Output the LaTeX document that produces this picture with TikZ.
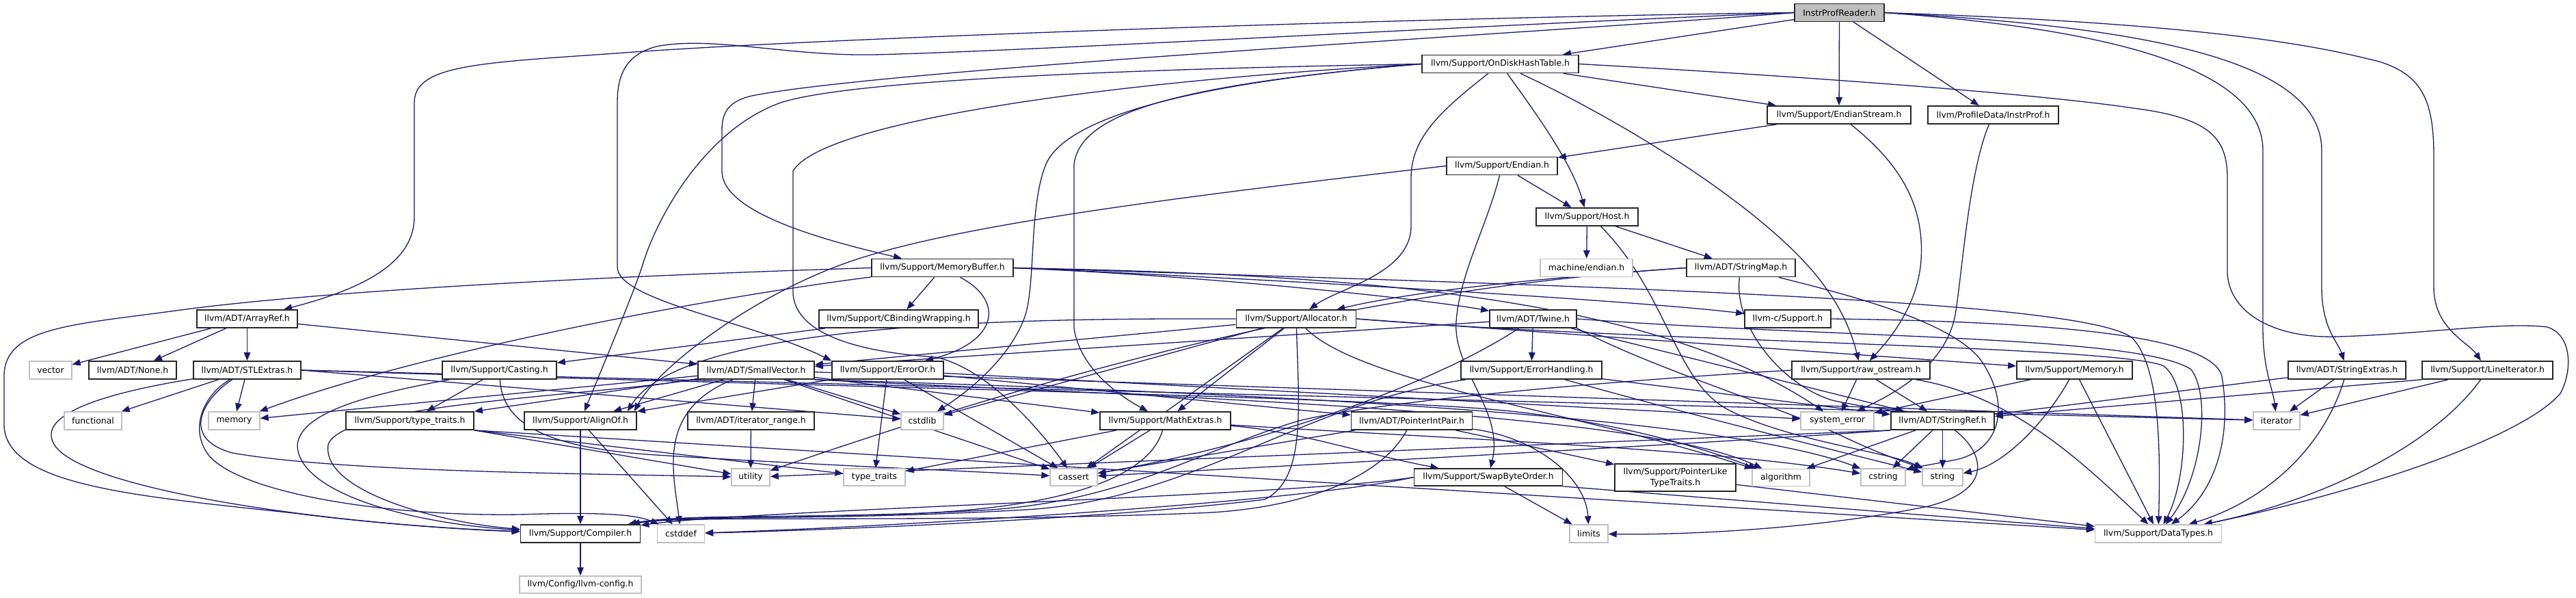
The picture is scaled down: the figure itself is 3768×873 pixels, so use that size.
\documentclass[tikz,border=0pt]{standalone}
\usepackage{fontspec}
\setmainfont{DejaVu Sans}
\usetikzlibrary{arrows.meta}
\definecolor{edgec}{HTML}{191970}
\definecolor{gborder}{HTML}{BFBFBF}
\definecolor{gfill}{HTML}{BFBFBF}
\pgfdeclarelayer{bg}
\pgfsetlayers{bg,main}
\begin{document}
\begin{tikzpicture}[x=1pt,y=-1pt,
  nd/.style={draw=black!85, line width=1.7pt, fill=white, minimum height=26, inner sep=0pt, font=\fontsize{12.4}{15.5}\selectfont, text=black},
  gn/.style={nd, draw=gborder, line width=1.4pt},
  e/.style={draw=edgec, line width=1.3pt, -{Triangle[length=12pt,width=9.5pt]}}
]
\begin{pgfonlayer}{bg}
\fill[white] (0,0) rectangle (3768,873);
\end{pgfonlayer}
\path[use as bounding box] (0,0) rectangle (3768,873);

% ---------- nodes ----------
\node[nd,fill=gfill,minimum width=131] (IPR) at (2690.5,18.5) {InstrProfReader.h};
\node[nd,minimum width=229] (ODHT) at (2194.5,93.5) {llvm/Support/OnDiskHashTable.h};
\node[nd,minimum width=210] (ES) at (2690,168) {llvm/Support/EndianStream.h};
\node[nd,minimum width=191] (IP) at (2915.5,168) {llvm/ProfileData/InstrProf.h};
\node[nd,minimum width=162] (EN) at (2197,242.5) {llvm/Support/Endian.h};
\node[nd,minimum width=149] (HO) at (2321.5,317) {llvm/Support/Host.h};
\node[nd,minimum width=207] (MB) at (1378.5,391.5) {llvm/Support/MemoryBuffer.h};
\node[gn,minimum width=135] (ME) at (2320.5,391.5) {machine/endian.h};
\node[nd,minimum width=159] (SM) at (2546.5,391.5) {llvm/ADT/StringMap.h};

\node[nd,minimum width=147] (AR) at (361.5,466) {llvm/ADT/ArrayRef.h};
\node[nd,minimum width=233] (CB) at (1314.5,466) {llvm/Support/CBindingWrapping.h};
\node[nd,minimum width=175] (AL) at (1896,466) {llvm/Support/Allocator.h};
\node[nd,minimum width=127] (TW) at (2242.5,466) {llvm/ADT/Twine.h};
\node[nd,minimum width=126] (LCS) at (2615,466) {llvm-c/Support.h};

\node[gn,minimum width=62] (VE) at (74,541) {vector};
\node[nd,minimum width=128] (NO) at (194,541) {llvm/ADT/None.h};
\node[nd,minimum width=157] (SE) at (361.5,541) {llvm/ADT/STLExtras.h};
\node[nd,minimum width=167] (CA) at (730.5,541) {llvm/Support/Casting.h};
\node[nd,minimum width=170] (SV) at (1106,541) {llvm/ADT/SmallVector.h};
\node[nd,minimum width=163] (EO) at (1298.5,541) {llvm/Support/ErrorOr.h};
\node[nd,minimum width=206] (EH) at (2240,541) {llvm/Support/ErrorHandling.h};
\node[nd,minimum width=202] (RO) at (2722,541) {llvm/Support/raw\_ostream.h};
\node[nd,minimum width=169] (MEM) at (3034.5,541) {llvm/Support/Memory.h};
\node[nd,minimum width=172] (SX) at (3433,541) {llvm/ADT/StringExtras.h};
\node[nd,minimum width=191] (LI) at (3638.5,541) {llvm/Support/LineIterator.h};

\node[gn,minimum width=84] (FU) at (136,615) {functional};
\node[gn,minimum width=75] (MY) at (342.5,615) {memory};
\node[nd,minimum width=187] (TT) at (599.5,615) {llvm/Support/type\_traits.h};
\node[nd,minimum width=164] (AO) at (849,615) {llvm/Support/AlignOf.h};
\node[nd,minimum width=185] (IR) at (1098.5,615) {llvm/ADT/iterator\_range.h};
\node[gn,minimum width=62] (CL) at (1349,615) {cstdlib};
\node[nd,minimum width=191] (MX) at (1704.5,615) {llvm/Support/MathExtras.h};
\node[nd,minimum width=177] (PIP) at (2065,615) {llvm/ADT/PointerIntPair.h};
\node[gn,minimum width=107] (SYE) at (2687.5,615) {system\_error};
\node[nd,minimum width=151] (SR) at (2841.5,615) {llvm/ADT/StringRef.h};
\node[gn,minimum width=68] (IT) at (3330,615) {iterator};

\node[gn,minimum width=56,minimum height=25] (UT) at (1098,697.5) {utility};
\node[gn,minimum width=90,minimum height=25] (TY) at (1279,697.5) {type\_traits};
\node[gn,minimum width=69,minimum height=25] (CAS) at (1570.5,697.5) {cassert};
\node[nd,minimum width=217,minimum height=25] (SBO) at (2177,697.5) {llvm/Support/SwapByteOrder.h};
\node[nd,minimum width=177,minimum height=40,align=center] (PLT) at (2450.5,698) {llvm/Support/PointerLike\\TypeTraits.h};
\node[gn,minimum width=84,minimum height=25] (ALG) at (2605,698) {algorithm};
\node[gn,minimum width=65,minimum height=25] (CS) at (2754.5,697.5) {cstring};
\node[gn,minimum width=59,minimum height=25] (ST) at (2841.5,697.5) {string};

\node[nd,minimum width=175] (CO) at (849,780) {llvm/Support/Compiler.h};
\node[gn,minimum width=69] (CD) at (996,780) {cstddef};
\node[gn,minimum width=56] (LIM) at (2324,780) {limits};
\node[gn,minimum width=185] (DT) at (3157,780) {llvm/Support/DataTypes.h};
\node[gn,minimum width=178,minimum height=25] (LC) at (849,854.5) {llvm/Config/llvm-config.h};

% ---------- edges ----------
\begin{pgfonlayer}{bg}
% InstrProfReader.h
\draw[e] (IPR) -- (ODHT);
\draw[e] (IPR) -- (ES);
\draw[e] (IPR) -- (IP);
\draw[e] (IPR.west) .. controls (2100,25) and (1200,55) .. (900,78) .. controls (700,92) and (606,95) .. (606,150) -- (606,317) .. controls (606,380) and (540,420) .. (AR);
\draw[e] (IPR.west) .. controls (2200,35) and (1500,75) .. (1277,80) .. controls (1150,82) and (1040,52) .. (960,68) .. controls (915,80) and (903,110) .. (903,150) -- (903,390) .. controls (903,440) and (1100,470) .. (EO.north west);
\draw[e] (IPR.west) .. controls (2300,45) and (1300,100) .. (1100,140) .. controls (1065,148) and (1056,165) .. (1056,190) -- (1056,250) .. controls (1056,310) and (1200,350) .. (MB);
\draw[e] (IPR.east) .. controls (3050,40) and (3310,90) .. (3310,220) -- (3310,480) .. controls (3310,540) and (3325,570) .. (IT);
\draw[e] (IPR.east) .. controls (3150,40) and (3396,90) .. (3396,220) -- (3396,420) .. controls (3396,480) and (3420,500) .. (SX);
\draw[e] (IPR.east) .. controls (3250,35) and (3400,70) .. (3480,90) .. controls (3545,110) and (3560,150) .. (3560,230) -- (3560,420) .. controls (3560,480) and (3610,500) .. (LI);
% OnDiskHashTable.h
\draw[e] (ODHT) -- (ES);
\draw[e] (ODHT) .. controls (2250,170) and (2300,240) .. (HO);
\draw[e] (ODHT) .. controls (2110,160) and (2064,200) .. (2064,260) -- (2064,330) .. controls (2064,400) and (1960,420) .. (AL);
\draw[e] (ODHT) .. controls (2400,190) and (2600,320) .. (2670,420) .. controls (2700,460) and (2712,500) .. (RO);
\draw[e] (ODHT.east) .. controls (2700,115) and (3000,140) .. (3120,158) .. controls (3230,172) and (3258,200) .. (3258,260) -- (3258,400) .. controls (3262,460) and (3330,495) .. (3420,492) .. controls (3550,488) and (3660,470) .. (3726,478) .. controls (3764,490) and (3762,545) .. (3745,575) .. controls (3690,640) and (3450,720) .. (DT);
\draw[e] (ODHT.west) .. controls (1700,100) and (1250,115) .. (1142,150) .. controls (1030,190) and (960,320) .. (940,387) .. controls (930,420) and (880,540) .. (AO);
\draw[e] (ODHT.west) .. controls (1600,120) and (1200,180) .. (1160,250) -- (1160,430) .. controls (1165,490) and (1260,515) .. (1369,522) .. controls (1450,540) and (1530,640) .. (CAS);
\draw[e] (ODHT.west) .. controls (1750,120) and (1560,170) .. (1530,240) .. controls (1505,300) and (1515,410) .. (1500,460) .. controls (1480,520) and (1420,570) .. (CL);
\draw[e] (ODHT.west) .. controls (1700,125) and (1580,170) .. (1571,240) -- (1571,480) .. controls (1580,540) and (1640,580) .. (MX);
% EndianStream.h
\draw[e] (ES) -- (EN);
\draw[e] (ES) .. controls (2780,240) and (2815,300) .. (2810,380) .. controls (2805,450) and (2760,500) .. (RO);
% Endian.h
\draw[e] (EN) -- (HO);
\draw[e] (EN) .. controls (2175,330) and (2135,400) .. (2130,470) .. controls (2125,540) and (2200,600) .. (SBO);
\draw[e] (EN.west) .. controls (1700,290) and (1400,330) .. (1250,380) .. controls (1100,430) and (960,540) .. ([xshift=-4pt]AO.north east);
% Host.h
\draw[e] (HO) -- (ME);
\draw[e] (HO) -- (SM);
\draw[e] ([xshift=20pt]HO.south) .. controls (2440,430) and (2450,560) .. (2530,600) .. controls (2620,645) and (2760,660) .. (ST);
% StringMap.h
\draw[e] (SM) .. controls (2535,470) and (2600,560) .. (2680,585) .. controls (2740,598) and (2780,600) .. (SR);
\draw[e] (SM.west) .. controls (2200,410) and (2050,430) .. (AL);
\draw[e] (SM) .. controls (2700,430) and (2860,470) .. (2900,530) .. controls (2945,600) and (2920,660) .. (2860,672) .. controls (2820,680) and (2800,683) .. (CS);
\draw[e] (SM.west) .. controls (1950,425) and (1500,560) .. (UT);
% InstrProf.h
\draw[e] (IP) .. controls (2880,250) and (2870,400) .. (2860,460) .. controls (2845,540) and (2760,580) .. (SYE);
% MemoryBuffer.h
\draw[e] (MB) -- (CB);
\draw[e] (MB) .. controls (1470,440) and (1460,500) .. (EO);
\draw[e] (MB) .. controls (1000,440) and (600,520) .. (MY);
\draw[e] (MB.west) .. controls (1000,400) and (500,420) .. (250,455) .. controls (100,475) and (6,480) .. (6,550) -- (6,620) .. controls (6,710) and (200,725) .. (430,750) .. controls (570,768) and (700,775) .. (CO);
\draw[e] (MB.east) .. controls (1800,405) and (2100,440) .. (TW);
\draw[e] (MB.east) .. controls (1900,410) and (2400,440) .. (LCS);
\draw[e] (MB.east) .. controls (2400,420) and (3060,440) .. (3120,495) .. controls (3160,540) and (3160,660) .. (DT);
\draw[e] (MB.east) .. controls (1900,400) and (2400,420) .. (SYE);
% ArrayRef.h
\draw[e] (AR) -- (VE);
\draw[e] (AR) -- (NO);
\draw[e] (AR) -- (SE);
\draw[e] (AR) -- (SV);
% STLExtras.h
\draw[e] (SE) -- (FU);
\draw[e] (SE) -- (MY);
\draw[e] (SE) .. controls (150,575) and (60,605) .. (77,645) .. controls (100,710) and (450,765) .. (CO);
\draw[e] (SE) .. controls (300,575) and (275,625) .. (305,665) .. controls (350,720) and (560,755) .. (760,752) .. controls (880,748) and (930,752) .. (CD);
\draw[e] (SE) .. controls (300,580) and (260,640) .. (340,662) .. controls (500,690) and (850,692) .. (UT);
\draw[e] (SE.east) -- (CL);
\draw[e] (SE.east) .. controls (1200,565) and (2000,580) .. (2200,600) .. controls (2400,620) and (2530,670) .. (ALG);
\draw[e] (SE.east) -- (IT);
% Casting.h
\draw[e] (CA) -- (TT);
\draw[e] (CA) .. controls (735,620) and (800,655) .. (960,665) .. controls (1200,680) and (1450,690) .. (CAS);
\draw[e] (CA) .. controls (550,575) and (440,600) .. (435,650) .. controls (435,720) and (600,765) .. (CO);
% CBindingWrapping.h
\draw[e] (CB) -- (CA);
% type_traits.h
\draw[e] (TT.south east) -- (TY);
\draw[e] (TT.south east) -- (UT);
\draw[e] (TT.south east) -- (DT);
% AlignOf.h, Compiler.h
\draw[e] (AO) -- (CO);
\draw[e] (AO) -- (CD);
\draw[e] (CO) -- (LC);
% Allocator.h
\draw[e] (AL) -- (SV);
\draw[e] (AL.west) .. controls (1500,465) and (1000,470) .. ([xshift=-14pt]AO.north east);
\draw[e] (AL.east) .. controls (2400,500) and (3100,505) .. (3165,535) .. controls (3205,565) and (3200,700) .. (DT);
\draw[e] (AL) -- (MX);
\draw[e] (AL.east) -- (MEM);
\draw[e] (AL) .. controls (1990,560) and (2300,600) .. (ALG);
\draw[e] (AL) -- (CAS);
\draw[e] (AL) .. controls (1900,600) and (1910,700) .. (1850,730) .. controls (1600,760) and (1200,775) .. (CD);
\draw[e] (AL) -- (CL);
% Twine.h
\draw[e] (TW) -- (EH);
\draw[e] (TW) -- (SV);
\draw[e] (TW) -- (SR);
\draw[e] (TW.east) .. controls (2700,495) and (3130,490) .. (3205,540) .. controls (3235,580) and (3220,700) .. (DT);
\draw[e] (TW) .. controls (2100,560) and (1850,650) .. (CAS);
\draw[e] (TW.south east) .. controls (2420,540) and (2620,600) .. (2700,640) .. controls (2760,668) and (2800,680) .. (ST);
% llvm-c/Support.h
\draw[e] (LCS.east) .. controls (3000,470) and (3235,490) .. (3250,550) .. controls (3265,640) and (3240,720) .. (DT);
% ErrorHandling.h
\draw[e] (EH) -- (SR);
\draw[e] (EH) .. controls (1900,590) and (1750,730) .. (1500,745) .. controls (1200,762) and (1000,752) .. (CO);
\draw[e] (EH) .. controls (2450,600) and (2650,650) .. (ST);
% raw_ostream.h
\draw[e] (RO) -- (SYE);
\draw[e] (RO) -- (SR);
\draw[e] (RO.west) .. controls (2300,560) and (2000,590) .. (1900,615) .. controls (1750,660) and (1650,730) .. (1450,745) .. controls (1200,760) and (1000,750) .. (CO);
\draw[e] (RO) .. controls (2950,580) and (3050,680) .. (DT);
% Memory.h
\draw[e] (MEM) -- (DT);
\draw[e] (MEM) .. controls (2990,620) and (2930,680) .. (ST);
\draw[e] (MEM) -- (SYE);
% StringExtras.h
\draw[e] (SX) -- (SR);
\draw[e] (SX) -- (IT);
\draw[e] (SX) .. controls (3400,650) and (3320,730) .. (DT);
% LineIterator.h
\draw[e] (LI.south west) -- (SR);
\draw[e] (LI) -- (IT);
\draw[e] (LI) .. controls (3560,650) and (3400,730) .. (DT);
% PointerIntPair.h
\draw[e] (PIP) -- (PLT);
\draw[e] (PIP) .. controls (2250,640) and (2320,700) .. (LIM);
\draw[e] (PIP) .. controls (2020,700) and (1900,745) .. (1750,750) .. controls (1350,765) and (1000,752) .. (CO);
\draw[e] (PIP) -- (CAS);
% SwapByteOrder.h
\draw[e] (SBO) -- (LIM);
\draw[e] (SBO.west) .. controls (1900,725) and (1100,745) .. (CO);
\draw[e] (SBO.west) .. controls (1900,735) and (1300,770) .. (CD);
\draw[e] (SBO.south east) -- (DT);
% PointerLikeTypeTraits.h
\draw[e] (PLT) -- (DT);
% StringRef.h
\draw[e] (SR) -- (ALG);
\draw[e] (SR) -- (CS);
\draw[e] (SR) -- (ST);
\draw[e] (SR) .. controls (2900,660) and (2920,715) .. (2820,740) .. controls (2650,775) and (2450,782) .. (LIM);
\draw[e] (SR.south west) .. controls (2500,648) and (1900,680) .. (CAS);
\draw[e] (SR.south west) -- (UT);
% MathExtras.h
\draw[e] (MX) .. controls (1680,700) and (1550,745) .. (1300,752) .. controls (1100,757) and (1000,752) .. (CO);
\draw[e] (MX) .. controls (1900,630) and (2000,665) .. (SBO);
\draw[e] (MX) -- (CAS);
\draw[e] (MX) .. controls (2100,640) and (2500,655) .. (CS);
\draw[e] (MX) -- (TY);
% iterator_range.h
\draw[e] (IR) -- (UT);
% ErrorOr.h
\draw[e] (EO) -- (TY);
\draw[e] (EO) -- (CAS);
\draw[e] (EO) -- (AO);
\draw[e] (EO) -- (PIP);
\draw[e] (EO) -- (SYE);
% SmallVector.h
\draw[e] (SV) -- (IR);
\draw[e] (SV) -- (AO);
\draw[e] (SV) .. controls (850,580) and (500,590) .. (480,650) .. controls (470,720) and (650,765) .. (CO);
\draw[e] (SV) -- (MX);
\draw[e] (SV) -- (TT);
\draw[e] (SV) -- (MY);
\draw[e] (SV) -- (CAS);
\draw[e] (SV) .. controls (960,600) and (985,690) .. (CD);
\draw[e] (SV) -- (CL);
\draw[e] (SV.south east) .. controls (1700,580) and (2400,600) .. (ALG);
\draw[e] (SV.south east) .. controls (1700,570) and (2500,600) .. (CS);
\draw[e] (SV) -- (IT);
\end{pgfonlayer}
\end{tikzpicture}
\end{document}
